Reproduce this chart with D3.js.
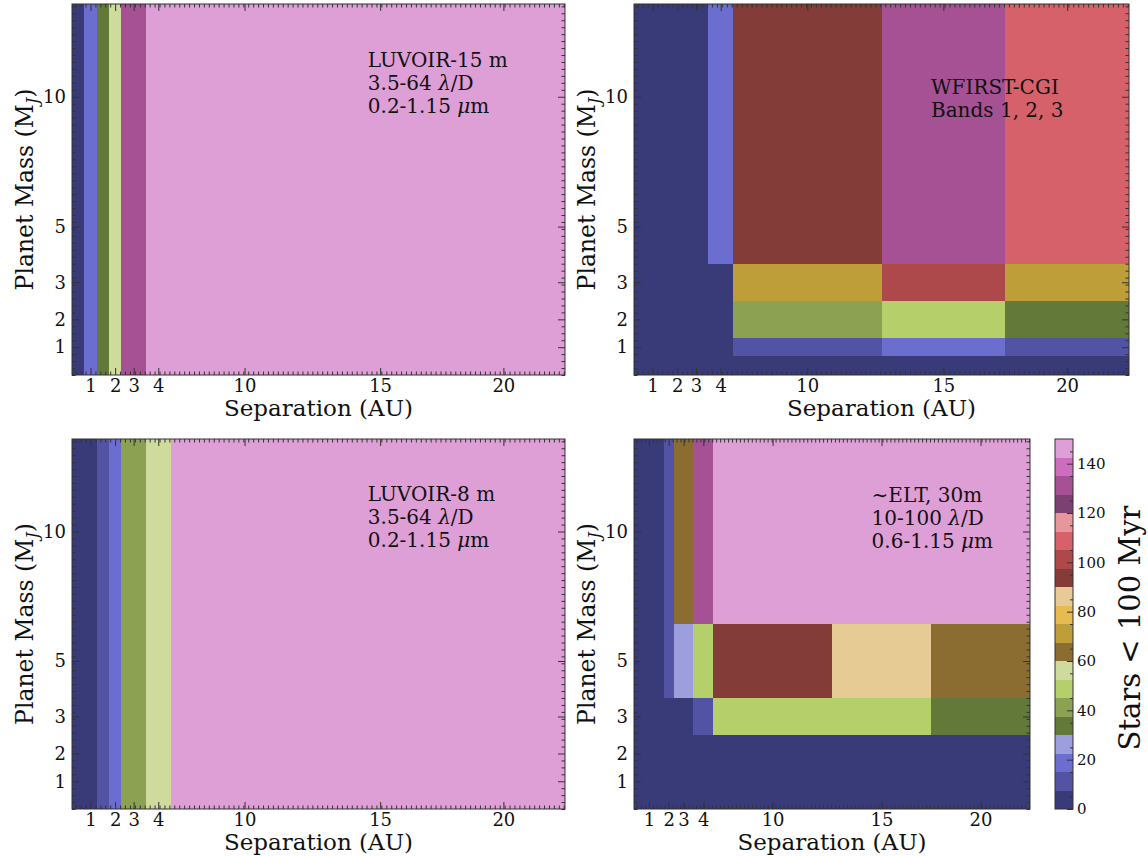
<!DOCTYPE html>
<html>
<head>
<meta charset="utf-8">
<script src="https://cdn.jsdelivr.net/npm/d3@7"></script>
<style>
  body { margin: 0; background: #fff; }
  svg { display: block; font-family: "DejaVu Serif", serif; }
</style>
</head>
<body>
<svg id="chart" width="1148" height="856"></svg>
<script>
// grid edges (cells are drawn between these)
const sepEdges = [0, 0.5, 1, 1.5, 2, 3, 4, 10, 15, 20];   // AU
const massEdges = [0, 0.5, 1, 2, 3, 5, 10];                // M_J

// tick labels sit at the cell centres, as in the original figure
const sepTicks = [0.75, 1.75, 2.5, 3.5, 7, 12.5, 17.5];
const sepTickLabels = ["1", "2", "3", "4", "10", "15", "20"];
const massTicks = [0.75, 1.5, 2.5, 4, 7.5];
const massTickLabels = ["1", "2", "3", "5", "10"];

// number of young stars per cell, rows go from low mass to high mass
const luvoir15 = [
  [3, 18, 33, 56, 131, 146, 146, 146, 146],
  [3, 18, 33, 56, 131, 146, 146, 146, 146],
  [3, 18, 33, 56, 131, 146, 146, 146, 146],
  [3, 18, 33, 56, 131, 146, 146, 146, 146],
  [3, 18, 33, 56, 131, 146, 146, 146, 146],
  [3, 18, 33, 56, 131, 146, 146, 146, 146]
];
const wfirst = [
  [3, 3, 3, 3, 3, 3, 3, 3, 3],
  [3, 3, 3, 3, 3, 3, 11, 18, 11],
  [3, 3, 3, 3, 3, 3, 41, 49, 34],
  [3, 3, 3, 3, 3, 3, 71, 101, 71],
  [3, 3, 3, 3, 3, 18, 94, 131, 109],
  [3, 3, 3, 3, 3, 18, 94, 131, 109]
];
const luvoir8 = [
  [3, 3, 11, 18, 41, 56, 146, 146, 146],
  [3, 3, 11, 18, 41, 56, 146, 146, 146],
  [3, 3, 11, 18, 41, 56, 146, 146, 146],
  [3, 3, 11, 18, 41, 56, 146, 146, 146],
  [3, 3, 11, 18, 41, 56, 146, 146, 146],
  [3, 3, 11, 18, 41, 56, 146, 146, 146]
];
const elt = [
  [3, 3, 3, 3, 3, 3, 3, 3, 3],
  [3, 3, 3, 3, 3, 3, 3, 3, 3],
  [3, 3, 3, 3, 3, 3, 3, 3, 3],
  [3, 3, 3, 3, 3, 11, 49, 49, 34],
  [3, 3, 3, 11, 26, 49, 94, 86, 64],
  [3, 3, 3, 11, 64, 131, 146, 146, 146]
];

// *x* marks italic (math) glyphs
const luvoir15Notes = ["LUVOIR-15 m", "3.5-64 *λ*/D", "0.2-1.15 *μ*m"];
const wfirstNotes = ["WFIRST-CGI", "Bands 1, 2, 3"];
const luvoir8Notes = ["LUVOIR-8 m", "3.5-64 *λ*/D", "0.2-1.15 *μ*m"];
const eltNotes = ["∼ELT, 30m", "10-100 *λ*/D", "0.6-1.15 *μ*m"];

const colorTicks = [0, 20, 40, 60, 80, 100, 120, 140];

const tab20b = ["#393b79", "#5254a3", "#6b6ecf", "#9c9ede", "#637939", "#8ca252", "#b5cf6b", "#cedb9c",
  "#8c6d31", "#bd9e39", "#e7ba52", "#e7cb94", "#843c39", "#ad494a", "#d6616b", "#e7969c",
  "#7b4173", "#a55194", "#ce6dbd", "#de9ed6"];
const vmax = 150;
const color = d3.scaleQuantize().domain([0, vmax]).range(tab20b);

const svg = d3.select("#chart");
const frameColor = "#333";

const panels = [
  {values: luvoir15, notes: luvoir15Notes, x0: 72, x1: 565, y0: 4, y1: 375, noteY: 67},
  {values: wfirst, notes: wfirstNotes, x0: 634, x1: 1129, y0: 4, y1: 375, noteY: 94},
  {values: luvoir8, notes: luvoir8Notes, x0: 72, x1: 565, y0: 439, y1: 809, noteY: 501},
  {values: elt, notes: eltNotes, x0: 634, x1: 1030, y0: 439, y1: 809, noteY: 502}
];

// minor tick locations, like matplotlib's AutoMinorLocator
function minors(start, step, lo, hi, majors) {
  const out = [];
  for (let k = Math.ceil((lo - start) / step); start + k * step <= hi + 1e-9; k++) {
    const v = start + k * step;
    if (!majors.some(m => Math.abs(m - v) < 1e-6)) out.push(v);
  }
  return out;
}
const sepMinor = minors(0.75, 0.2, 0, 20, sepTicks);
const massMinor = minors(0.75, 0.1875, 0, 10, massTicks);

function styleAxis(g, size = 18) {
  g.select(".domain").remove();
  g.selectAll("line").attr("stroke", frameColor);
  g.selectAll("text").attr("fill", "#111").attr("font-size", size + "px").attr("font-family", "DejaVu Serif");
}

function richText(sel, str) {
  str.split("*").forEach((part, i) => {
    if (!part) return;
    sel.append("tspan").attr("font-style", i % 2 ? "italic" : "normal").text(part);
  });
}

panels.forEach(p => {
  const x = d3.scaleLinear().domain([0, 20]).range([p.x0, p.x1]);
  const y = d3.scaleLinear().domain([0, 10]).range([p.y1, p.y0]);
  const g = svg.append("g");

  const cells = [];
  p.values.forEach((row, r) => row.forEach((v, c) => cells.push({r, c, v})));
  g.append("g").attr("shape-rendering", "crispEdges").selectAll("rect")
    .data(cells)
    .join("rect")
      .attr("x", d => x(sepEdges[d.c]))
      .attr("y", d => y(massEdges[d.r + 1]))
      .attr("width", d => x(sepEdges[d.c + 1]) - x(sepEdges[d.c]))
      .attr("height", d => y(massEdges[d.r]) - y(massEdges[d.r + 1]))
      .attr("fill", d => color(d.v));

  // ticks on all four sides, pointing inwards
  const bottom = g.append("g").attr("transform", `translate(0,${p.y1})`);
  bottom.append("g").call(d3.axisBottom(x).tickValues(sepMinor).tickSize(-3.5).tickFormat("")).call(styleAxis);
  bottom.append("g").call(d3.axisBottom(x).tickValues(sepTicks).tickSize(-7).tickPadding(4)
    .tickFormat((d, i) => sepTickLabels[i])).call(styleAxis);
  const top = g.append("g").attr("transform", `translate(0,${p.y0})`);
  top.append("g").call(d3.axisTop(x).tickValues(sepMinor).tickSize(-3.5).tickFormat("")).call(styleAxis);
  top.append("g").call(d3.axisTop(x).tickValues(sepTicks).tickSize(-7).tickFormat("")).call(styleAxis);

  const left = g.append("g").attr("transform", `translate(${p.x0},0)`);
  left.append("g").call(d3.axisLeft(y).tickValues(massMinor).tickSize(-3.5).tickFormat("")).call(styleAxis);
  left.append("g").call(d3.axisLeft(y).tickValues(massTicks).tickSize(-7).tickPadding(6)
    .tickFormat((d, i) => massTickLabels[i])).call(styleAxis);
  const right = g.append("g").attr("transform", `translate(${p.x1},0)`);
  right.append("g").call(d3.axisRight(y).tickValues(massMinor).tickSize(-3.5).tickFormat("")).call(styleAxis);
  right.append("g").call(d3.axisRight(y).tickValues(massTicks).tickSize(-7).tickFormat("")).call(styleAxis);

  g.append("rect")
    .attr("x", p.x0).attr("y", p.y0)
    .attr("width", p.x1 - p.x0).attr("height", p.y1 - p.y0)
    .attr("fill", "none").attr("stroke", frameColor).attr("stroke-width", 1);

  // instrument note
  const nx = p.x0 + 0.6 * (p.x1 - p.x0);
  p.notes.forEach((line, i) => {
    const t = g.append("text")
      .attr("x", nx).attr("y", p.noteY + i * 23)
      .attr("font-size", "20px").attr("fill", "#111");
    richText(t, line);
  });

  // axis titles
  g.append("text")
    .attr("x", (p.x0 + p.x1) / 2).attr("y", p.y1 + 41)
    .attr("text-anchor", "middle").attr("font-size", "23px").attr("fill", "#111")
    .text("Separation (AU)");
  const yl = g.append("text")
    .attr("transform", `translate(${p.x0 - 39},${(p.y0 + p.y1) / 2}) rotate(-90)`)
    .attr("text-anchor", "middle").attr("font-size", "23.5px").attr("fill", "#111");
  yl.append("tspan").text("Planet Mass (M");
  yl.append("tspan").attr("font-size", "16px").attr("font-style", "italic").attr("dy", 5).text("J");
  yl.append("tspan").attr("dy", -5).text(")");
});

// colour bar
const cb = {x0: 1055, x1: 1073, y0: 439, y1: 809};
const cy = d3.scaleLinear().domain([0, vmax]).range([cb.y1, cb.y0]);
const binSize = vmax / tab20b.length;
const cbar = svg.append("g");
cbar.append("g").attr("shape-rendering", "crispEdges").selectAll("rect")
  .data(tab20b)
  .join("rect")
    .attr("x", cb.x0)
    .attr("y", (d, i) => cy((i + 1) * binSize))
    .attr("width", cb.x1 - cb.x0)
    .attr("height", (d, i) => cy(i * binSize) - cy((i + 1) * binSize))
    .attr("fill", d => d);
const cbAxis = cbar.append("g").attr("transform", `translate(${cb.x1},0)`);
cbAxis.append("g").call(d3.axisRight(cy).tickValues(d3.range(5, vmax, 10)).tickSize(-3).tickFormat("")).call(styleAxis);
cbAxis.append("g").call(d3.axisRight(cy).tickValues(colorTicks).tickSize(-6).tickPadding(4))
  .call(g => styleAxis(g, 15));
cbar.append("rect")
  .attr("x", cb.x0).attr("y", cb.y0)
  .attr("width", cb.x1 - cb.x0).attr("height", cb.y1 - cb.y0)
  .attr("fill", "none").attr("stroke", frameColor).attr("stroke-width", 1);
cbar.append("text")
  .attr("transform", `translate(1140,${(cb.y0 + cb.y1) / 2 + 4}) rotate(-90)`)
  .attr("text-anchor", "middle").attr("font-size", "29px").attr("fill", "#111")
  .text("Stars < 100 Myr");
</script>
</body>
</html>
